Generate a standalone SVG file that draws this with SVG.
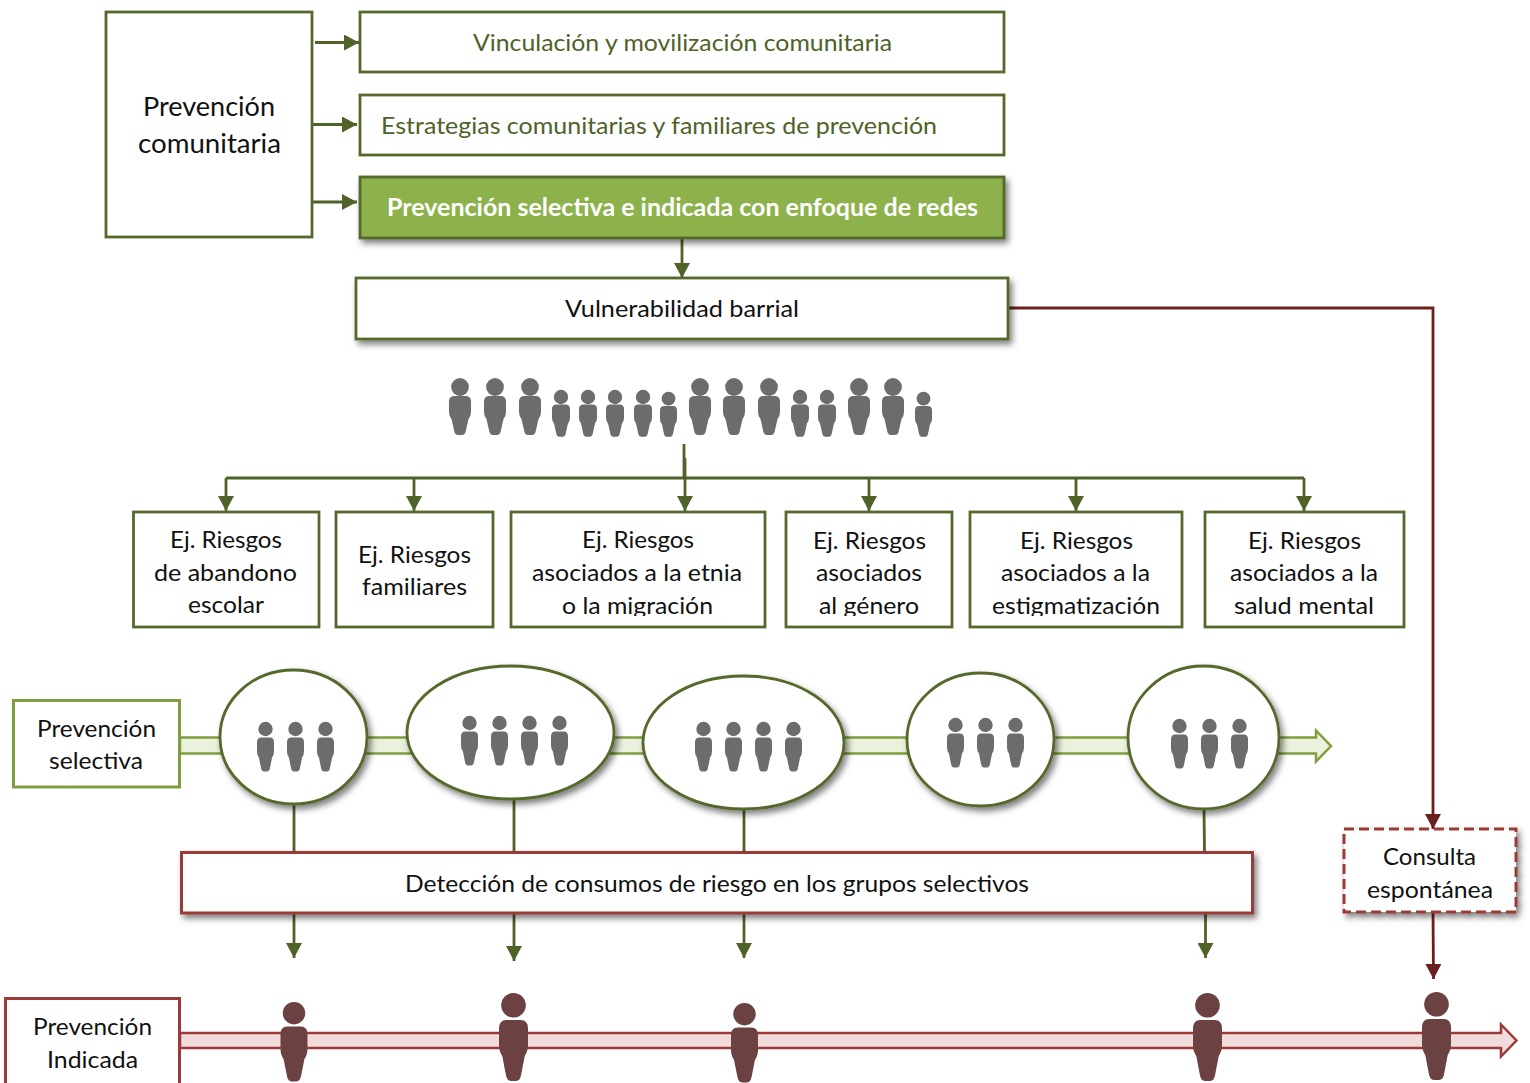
<svg xmlns="http://www.w3.org/2000/svg" width="1530" height="1083" viewBox="0 0 1530 1083">
<style>
text{font-family:"Lato","Liberation Sans",sans-serif;fill:#111;font-size:24px}
.lg{font-size:26.5px}
.gt{fill:#4F6228}
.wt{fill:#fff;font-weight:700}
.g{fill:#fff;stroke:#55692C;stroke-width:2.8}
.lt{fill:#fff;stroke:#7F9F3F;stroke-width:3}
.r{fill:#fff;stroke:#9B3A38;stroke-width:3}
.cg{fill:none;stroke:#4F6228;stroke-width:2.8}
.cr{fill:none;stroke:#6B2020;stroke-width:2.8}
.ah{marker-end:url(#ag)}
.ar{marker-end:url(#ar)}
.sh{filter:url(#s)}
.p1{fill:#6D6B6C}
.p2{fill:#6C4141}
</style>
<defs>
<filter id="s" x="-20%" y="-20%" width="140%" height="150%"><feDropShadow dx="3" dy="4" stdDeviation="3" flood-color="#000" flood-opacity=".5"/></filter>
<marker id="ag" markerUnits="userSpaceOnUse" markerWidth="15" markerHeight="16" refX="15" refY="8" orient="auto"><path d="M0 0L15 8L0 16Z" fill="#4F6228"/></marker>
<marker id="ar" markerUnits="userSpaceOnUse" markerWidth="15" markerHeight="16" refX="15" refY="8" orient="auto"><path d="M0 0L15 8L0 16Z" fill="#6B2020"/></marker>
<clipPath id="cl"><rect x="0" y="500" width="1530" height="116"/></clipPath>
<path id="body" d="M5.500 0H16.500Q22 0 22 5.500V16Q22 20 19.500 23L16.800 35Q16 39 13 39H9Q6 39 5.200 35L2.500 23Q0 20 0 16V5.500Q0 0 5.500 0Z"/>
<g id="pl"><circle cx="11" cy="9" r="8.900"/><use href="#body" transform="translate(0 18)"/></g>
<g id="ps"><circle cx="9" cy="7" r="7.200"/><use href="#body" transform="translate(0 14.500) scale(.818 .83)"/></g>
<g id="pxs"><circle cx="8.500" cy="6.700" r="6.900"/><use href="#body" transform="translate(0 14) scale(.773 .79)"/></g>
<g id="pm"><circle cx="8.500" cy="7" r="7.200"/><use href="#body" transform="translate(0 15.500) scale(.773 .87)"/></g>
<g id="pk"><circle cx="13.500" cy="11.200" r="11.200"/><use href="#body" transform="translate(0 24.500) scale(1.227 1.41)"/></g>
<g id="pb"><circle cx="14.500" cy="12.300" r="12.300"/><use href="#body" transform="translate(0 27) scale(1.318 1.564)"/></g>
</defs>
<rect width="1530" height="1083" fill="#fff"/>
<g id="connectors">
<path d="M180 737.500H1316V730.500L1331 746L1316 761.500V753.500H180Z" fill="#EAF1DD" stroke="#7F9F3F" stroke-width="2.500"/>
<path d="M180 1033H1501V1024.500L1516.500 1040.500L1501 1056.500V1048H180Z" fill="#F2DBDB" stroke="#9B3A38" stroke-width="2.500"/>
<path class="cg ah" d="M315 42.500H359"/>
<path class="cg ah" d="M313 124.500H357"/>
<path class="cg ah" d="M313 202H357"/>
<path class="cg ah" d="M682 238V278"/>
<path class="cg" d="M684 444V478M226 478H1304"/>
<path class="cg ah" d="M226 478V511"/>
<path class="cg ah" d="M414 478V511"/>
<path class="cg ah" d="M685 458V511"/>
<path class="cg ah" d="M869 478V511"/>
<path class="cg ah" d="M1076 478V511"/>
<path class="cg ah" d="M1304 478V511"/>
<path class="cg" d="M294 804V852M514 798V852M744 809V852M1204 809L1204.500 852"/>
<path class="cg ah" d="M294 913V958"/>
<path class="cg ah" d="M514 913V961"/>
<path class="cg ah" d="M744 913V958"/>
<path class="cg ah" d="M1205.500 913V958"/>
<path class="cr ar" d="M1008 308H1433V829"/>
<path class="cr ar" d="M1433 912L1433.500 979"/>
</g>
<g id="n-comunitaria"><rect class="g" x="106" y="12" width="206" height="225"/><text class="lg" x="143" y="116" textLength="132" lengthAdjust="spacingAndGlyphs">Prevención</text><text class="lg" x="138" y="153" textLength="143" lengthAdjust="spacingAndGlyphs">comunitaria</text></g>
<g id="n-vinculacion"><rect class="g" x="360" y="12" width="644" height="60"/><text class="gt" x="473" y="51" textLength="419" lengthAdjust="spacingAndGlyphs">Vinculación y movilización comunitaria</text></g>
<g id="n-estrategias"><rect class="g" x="360" y="95" width="644" height="60"/><text class="gt" x="381" y="134" textLength="556" lengthAdjust="spacingAndGlyphs">Estrategias comunitarias y familiares de prevención</text></g>
<g id="n-redes"><rect class="sh" x="360" y="177" width="644" height="61" fill="#8DB14B" stroke="#55692C" stroke-width="2.800"/><text class="wt" x="387" y="216" textLength="591" lengthAdjust="spacingAndGlyphs">Prevención selectiva e indicada con enfoque de redes</text></g>
<g id="n-vulnerabilidad"><rect class="g sh" x="356" y="278" width="652" height="61"/><text x="565" y="317" textLength="234" lengthAdjust="spacingAndGlyphs">Vulnerabilidad barrial</text></g>
<g id="n-poblacion" class="p1">
<use href="#pl" x="449" y="378"/><use href="#pl" x="484" y="378"/><use href="#pl" x="519" y="378"/>
<use href="#ps" x="552" y="390"/><use href="#ps" x="579" y="390"/><use href="#ps" x="606" y="390"/><use href="#ps" x="634" y="390"/><use href="#pxs" x="660" y="392"/>
<use href="#pl" x="689" y="378"/><use href="#pl" x="723" y="378"/><use href="#pl" x="758" y="378"/>
<use href="#ps" x="791" y="390"/><use href="#ps" x="818" y="390"/>
<use href="#pl" x="848" y="378"/><use href="#pl" x="882" y="378"/>
<use href="#pxs" x="915" y="392"/>
</g>
<g id="n-riesgo1"><rect class="g" x="133.500" y="512" width="185.500" height="115"/><text x="170" y="548" textLength="112" lengthAdjust="spacingAndGlyphs">Ej. Riesgos</text><text x="154" y="581" textLength="143" lengthAdjust="spacingAndGlyphs">de abandono</text><text x="188" y="613" textLength="76" lengthAdjust="spacingAndGlyphs">escolar</text></g>
<g id="n-riesgo2"><rect class="g" x="336" y="512" width="157" height="115"/><text x="358" y="563" textLength="113" lengthAdjust="spacingAndGlyphs">Ej. Riesgos</text><text x="362" y="595" textLength="105" lengthAdjust="spacingAndGlyphs">familiares</text></g>
<g id="n-riesgo3"><rect class="g" x="511" y="512" width="254" height="115"/><text x="582" y="548" textLength="112" lengthAdjust="spacingAndGlyphs">Ej. Riesgos</text><text x="532" y="581" textLength="210" lengthAdjust="spacingAndGlyphs">asociados a la etnia</text><text x="562" y="614" textLength="151" lengthAdjust="spacingAndGlyphs" clip-path="url(#cl)">o la migración</text></g>
<g id="n-riesgo4"><rect class="g" x="786" y="512" width="166" height="115"/><text x="813" y="549" textLength="113" lengthAdjust="spacingAndGlyphs">Ej. Riesgos</text><text x="816" y="581" textLength="106" lengthAdjust="spacingAndGlyphs">asociados</text><text x="819" y="614" textLength="100" lengthAdjust="spacingAndGlyphs" clip-path="url(#cl)">al género</text></g>
<g id="n-riesgo5"><rect class="g" x="970" y="512" width="212" height="115"/><text x="1020" y="549" textLength="113" lengthAdjust="spacingAndGlyphs">Ej. Riesgos</text><text x="1001" y="581" textLength="149" lengthAdjust="spacingAndGlyphs">asociados a la</text><text x="992" y="614" textLength="168" lengthAdjust="spacingAndGlyphs" clip-path="url(#cl)">estigmatización</text></g>
<g id="n-riesgo6"><rect class="g" x="1205" y="512" width="199" height="115"/><text x="1248" y="549" textLength="113" lengthAdjust="spacingAndGlyphs">Ej. Riesgos</text><text x="1230" y="581" textLength="148" lengthAdjust="spacingAndGlyphs">asociados a la</text><text x="1234" y="614" textLength="140" lengthAdjust="spacingAndGlyphs">salud mental</text></g>
<g id="n-selectiva"><rect class="lt" x="13.500" y="700.500" width="166" height="86.500"/><text x="37" y="737" textLength="119" lengthAdjust="spacingAndGlyphs">Prevención</text><text x="49" y="769" textLength="94" lengthAdjust="spacingAndGlyphs">selectiva</text></g>
<g id="n-grupo1"><ellipse class="g sh" cx="293.500" cy="737" rx="73.500" ry="67"/><g class="p1"><use href="#pm" x="257" y="722"/><use href="#pm" x="287" y="722"/><use href="#pm" x="317" y="722"/></g></g>
<g id="n-grupo2"><ellipse class="g sh" cx="510.500" cy="732.500" rx="103.500" ry="66.500"/><g class="p1"><use href="#pm" x="461" y="716"/><use href="#pm" x="491" y="716"/><use href="#pm" x="521" y="716"/><use href="#pm" x="551" y="716"/></g></g>
<g id="n-grupo3"><ellipse class="g sh" cx="743.500" cy="742.500" rx="100.500" ry="66.500"/><g class="p1"><use href="#pm" x="695" y="722"/><use href="#pm" x="725" y="722"/><use href="#pm" x="755" y="722"/><use href="#pm" x="785" y="722"/></g></g>
<g id="n-grupo4"><ellipse class="g sh" cx="980.500" cy="739.500" rx="73.500" ry="66.500"/><g class="p1"><use href="#pm" x="947" y="718"/><use href="#pm" x="977" y="718"/><use href="#pm" x="1007" y="718"/></g></g>
<g id="n-grupo5"><ellipse class="g sh" cx="1203.500" cy="737.500" rx="75.500" ry="71.500"/><g class="p1"><use href="#pm" x="1171" y="719"/><use href="#pm" x="1201" y="719"/><use href="#pm" x="1231" y="719"/></g></g>
<g id="n-deteccion"><rect class="r sh" x="181.500" y="852.500" width="1071" height="60.500"/><text x="405" y="892" textLength="624" lengthAdjust="spacingAndGlyphs">Detección de consumos de riesgo en los grupos selectivos</text></g>
<g id="n-consulta"><rect class="r sh" x="1344" y="829" width="172" height="83" stroke-dasharray="10 5"/><text x="1383" y="865" textLength="93" lengthAdjust="spacingAndGlyphs">Consulta</text><text x="1367" y="898" textLength="126" lengthAdjust="spacingAndGlyphs">espontánea</text></g>
<g id="n-indicada"><rect class="r" x="5.500" y="998.500" width="174" height="90"/><text x="33" y="1035" textLength="119" lengthAdjust="spacingAndGlyphs">Prevención</text><text x="47" y="1068" textLength="91" lengthAdjust="spacingAndGlyphs">Indicada</text></g>
<g id="n-personas" class="p2">
<use href="#pk" x="280.500" y="1002"/>
<use href="#pb" x="499" y="993"/>
<use href="#pk" x="731" y="1003"/>
<use href="#pb" x="1193" y="993"/>
<use href="#pb" x="1422" y="992"/>
</g>
</svg>
